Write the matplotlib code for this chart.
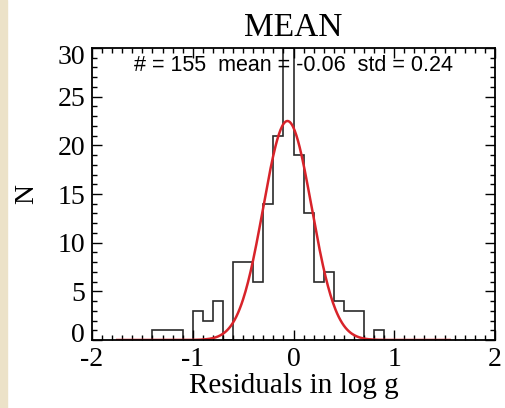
import numpy as np
import matplotlib
matplotlib.use("Agg")
import matplotlib.pyplot as plt
import matplotlib.transforms as mtransforms
from matplotlib.patches import Rectangle
from matplotlib.ticker import MultipleLocator

plt.rcParams["axes.unicode_minus"] = False

# histogram of residuals (bin width 0.1)
bin_edges = [-1.4, -1.3, -1.2, -1.1, -1.0, -0.9, -0.8, -0.7, -0.6, -0.5, -0.4, -0.3,
             -0.2, -0.1, 0.0, 0.1, 0.2, 0.3, 0.4, 0.5, 0.6, 0.7, 0.8, 0.9]
counts = [1, 1, 1, 0, 3, 2, 4, 0, 8, 8, 6, 14, 21, 30, 19, 13, 6, 7, 4, 3, 3, 0, 1]

# gaussian fit parameters
fit_amp = 22.5
fit_mean = -0.06
fit_std = 0.24
fit_range = (-1.75, 1.55)
n_total = 155

serif = ["Liberation Serif", "DejaVu Serif"]
sans = ["Liberation Sans", "DejaVu Sans"]

fig = plt.figure(figsize=(5.05, 4.08), dpi=100)
fig.patches.append(Rectangle((0, 0), 7 / 505, 1, transform=fig.transFigure,
                             color="#ece2c8", zorder=0))
ax = fig.add_axes([92 / 505, 68 / 408, 403 / 505, 292 / 408])

ax.stairs(counts, bin_edges, color="#2a2a2a", lw=1.2, baseline=0)

xf = np.linspace(fit_range[0], fit_range[1], 400)
yf = fit_amp * np.exp(-(xf - fit_mean) ** 2 / (2 * fit_std ** 2))
ax.plot(xf, yf, color="#d8232a", lw=1.8)

ax.set_xlim(-2, 2)
ax.set_ylim(0, 30)
ax.xaxis.set_major_locator(MultipleLocator(1))
ax.xaxis.set_minor_locator(MultipleLocator(0.1))
ax.yaxis.set_major_locator(MultipleLocator(5))
ax.yaxis.set_minor_locator(MultipleLocator(1))
ax.tick_params(which="both", direction="in", top=True, right=True, width=1.0)
ax.tick_params(which="major", length=7)
ax.tick_params(which="minor", length=3.5)
ax.tick_params(axis="x", pad=5)
ax.tick_params(axis="y", pad=5)
for sp in ax.spines.values():
    sp.set_linewidth(1.3)

fig.canvas.draw()
for lab in ax.get_xticklabels() + ax.get_yticklabels():
    lab.set_family(serif)
    lab.set_fontsize(20)
# end labels sit inside the axis range, as in the original
for lab in ax.get_yticklabels():
    txt = lab.get_text()
    if txt == "0":
        dy = 7
    elif txt == "30":
        dy = -7
    else:
        continue
    lab.set_transform(lab.get_transform()
                      + mtransforms.ScaledTranslation(0, dy / 100, fig.dpi_scale_trans))

ax.set_title("MEAN", family=serif, fontsize=24, pad=9)
ax.set_xlabel("Residuals in log g", family=serif, fontsize=21, labelpad=1)
ax.set_ylabel("N", family=serif, fontsize=20, labelpad=13)

ax.text(0.0, 28.2, "# = %d  mean = %.2f  std = %.2f" % (n_total, fit_mean, fit_std),
        family=sans, fontsize=15.5, ha="center", va="center")

fig.savefig("out.png", dpi=100)
